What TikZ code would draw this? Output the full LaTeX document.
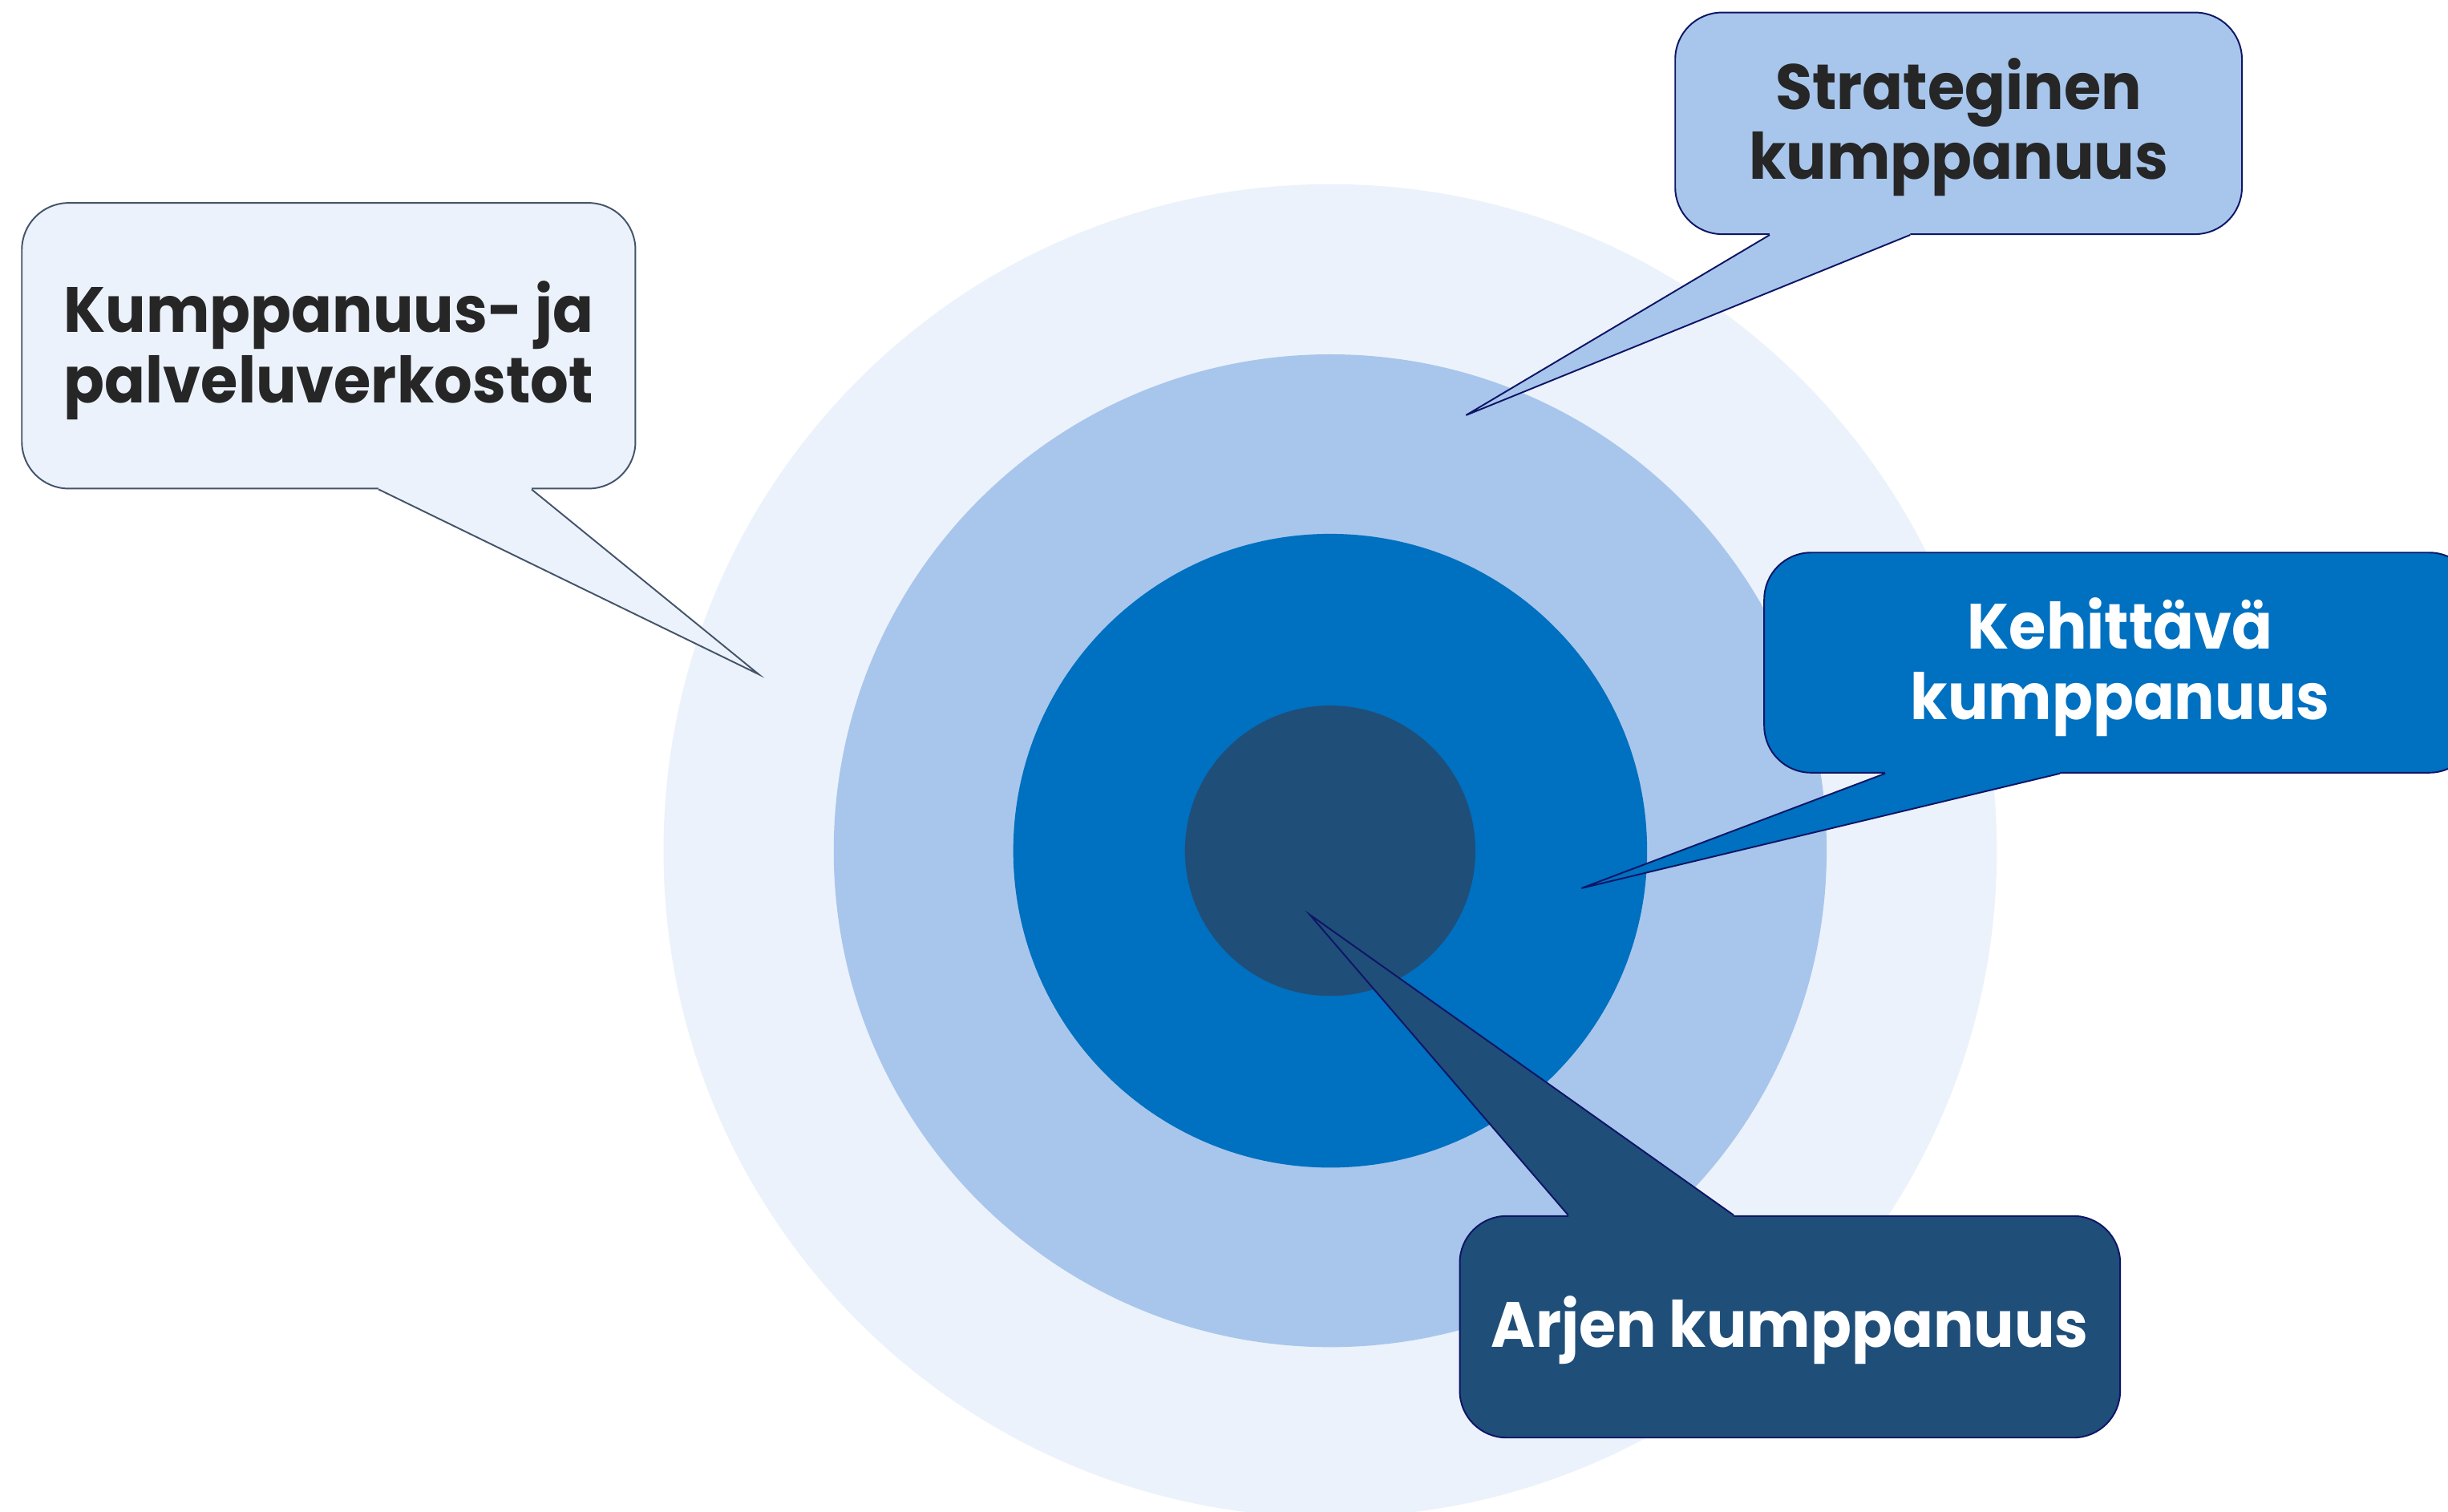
\documentclass[tikz,border=0pt]{standalone}
\usepackage{fontspec}
\setmainfont{Poppins}[FakeStretch=0.94]
\usetikzlibrary{calc}
\definecolor{ringA}{HTML}{ECF2FB}
\definecolor{ringB}{HTML}{A8C6EC}
\definecolor{ringC}{HTML}{0070C0}
\definecolor{ringD}{HTML}{1F4E79}
\definecolor{grayline}{HTML}{44546A}
\definecolor{navyline}{HTML}{0E1566}
\definecolor{darktext}{HTML}{262626}
\begin{document}
\begin{tikzpicture}[x=1pt,y=-1pt,
  font=\bfseries\fontsize{41}{45}\selectfont,
  bubble/.style={rectangle, rounded corners=30pt, line width=1pt, inner sep=0pt},
  label text/.style={align=center, inner sep=0pt},
  tail/.style={line width=1pt, line join=miter}]
\useasboundingbox (0,0) rectangle (1568,968.6);
\fill[white] (0,0) rectangle (1568,968.6);
% rings
\fill[ringA] (852,545) circle[radius=427pt];
\fill[ringB] (852,545) circle[radius=318pt];
\fill[ringC] (852,545) circle[radius=203pt];
\fill[ringD] (852,545) circle[radius=93pt];

% callout 1
\node[bubble, fill=ringA, draw=grayline, minimum width=393pt, minimum height=183pt] (kp) at (210.5,221.5) {};
\coordinate (kpTip) at (486,432);
\fill[ringA] ($(kp.south west)+(229,-1.5)$) -- ($(kp.south west)+(229,0)$) -- (kpTip) -- ($(kp.south west)+(327,0)$) -- ($(kp.south west)+(327,-1.5)$) -- cycle;
\draw[tail, grayline] ($(kp.south west)+(229,0)$) -- (kpTip) -- ($(kp.south west)+(327,0)$);
\node[label text, text=darktext] (kpText) at ($(kp.center)+(0,3)$) {Kumppanuus- ja\\palveluverkostot};

% callout 2
\node[bubble, fill=ringB, draw=navyline, minimum width=363pt, minimum height=142pt] (sk) at (1254.5,79) {};
\coordinate (skTip) at (939,266);
\fill[ringB] ($(sk.south west)+(61,-1.5)$) -- ($(sk.south west)+(61,0)$) -- (skTip) -- ($(sk.south west)+(151,0)$) -- ($(sk.south west)+(151,-1.5)$) -- cycle;
\draw[tail, navyline] ($(sk.south west)+(61,0)$) -- (skTip) -- ($(sk.south west)+(151,0)$);
\node[label text, text=darktext] (skText) at ($(sk.center)+(0,2.5)$) {Strateginen\\kumppanuus};

% callout 3
\node[bubble, fill=ringC, draw=navyline, minimum width=456pt, minimum height=141pt] (kk) at (1358,424.5) {};
\coordinate (kkTip) at (1013,569);
\fill[ringC] ($(kk.south west)+(78,-1.5)$) -- ($(kk.south west)+(78,0)$) -- (kkTip) -- ($(kk.south west)+(190,0)$) -- ($(kk.south west)+(190,-1.5)$) -- cycle;
\draw[tail, navyline] ($(kk.south west)+(78,0)$) -- (kkTip) -- ($(kk.south west)+(190,0)$);
\node[label text, text=white] (kkText) at ($(kk.center)+(0,3)$) {Kehittävä\\kumppanuus};

% callout 4
\node[bubble, fill=ringD, draw=navyline, minimum width=423pt, minimum height=142pt] (ak) at (1146.5,850) {};
\coordinate (akTip) at (839,586);
\fill[ringD] ($(ak.north west)+(70,1.5)$) -- ($(ak.north west)+(70,0)$) -- (akTip) -- ($(ak.north west)+(176,0)$) -- ($(ak.north west)+(176,1.5)$) -- cycle;
\draw[tail, navyline] ($(ak.north west)+(70,0)$) -- (akTip) -- ($(ak.north west)+(176,0)$);
\node[label text, text=white] (akText) at ($(ak.center)+(0,2)$) {Arjen kumppanuus};
\end{tikzpicture}
\end{document}
